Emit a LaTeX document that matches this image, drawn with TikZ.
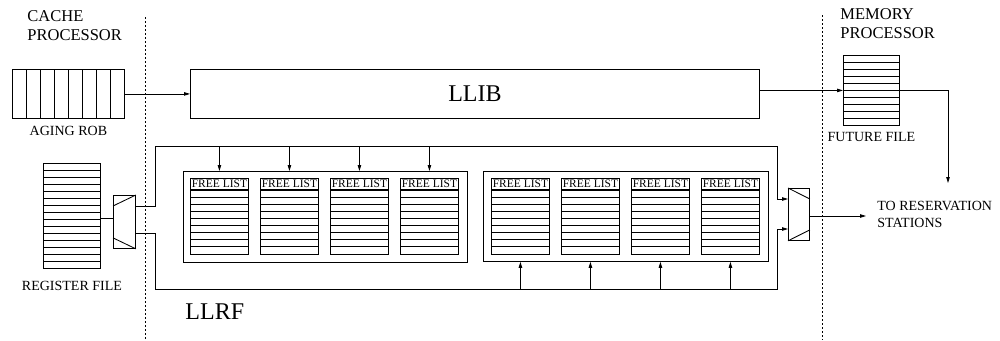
\documentclass[tikz,border=0pt]{standalone}
\usepackage{fontspec}
\setmainfont{Liberation Serif}
\usetikzlibrary{arrows.meta,calc}
\begin{document}
\begin{tikzpicture}[x=1pt,y=-1pt, line width=0.85pt,
  box/.style={draw, inner sep=0pt, anchor=north west},
  arr/.style={-{Triangle[length=6pt,width=3.5pt]}},
  sep/.style={dash pattern=on 2pt off 2pt, line width=0.7pt},
  lbl/.style={font=\fontsize{14}{17}\selectfont, inner sep=0pt},
  bigt/.style={font=\fontsize{16.5}{19}\selectfont, align=left, inner sep=0pt},
  hugt/.style={font=\fontsize{24}{28}\selectfont, inner sep=0pt},
  flt/.style={font=\fontsize{11.5}{12}\selectfont, inner sep=0pt}]

\useasboundingbox (0,0) rectangle (1000,340);

% separators
\coordinate (d1t) at (145,17); \coordinate (d1b) at (145,340);
\coordinate (d2t) at (822,15); \coordinate (d2b) at (822,340);
\draw[sep] (d1t) -- (d1b);
\draw[sep] (d2t) -- (d2b);

% titles
\node[bigt, anchor=north west] (cp) at (27,10) {CACHE\\PROCESSOR};
\node[bigt, anchor=north west] (mp) at (840,8) {MEMORY\\PROCESSOR};

% aging ROB
\node[box, minimum width=112, minimum height=49] (rob) at (12,69) {};
\foreach \k in {1,...,7} \draw (12+\k*14,69) -- ++(0,49);
\node[lbl, anchor=north] (roblbl) at (rob.south |- 0,126) {AGING ROB};

% LLIB
\node[box, minimum width=569, minimum height=49, font=\fontsize{24}{28}\selectfont] (llib) at (190,69) {LLIB};
\draw[arr] (rob.east) -- (llib.west);

% future file
\node[box, minimum width=56, minimum height=70] (ff) at (843,55) {};
\foreach \k in {1,...,9} \draw (843,55+\k*7) -- ++(56,0);
\node[lbl, anchor=north] (fflbl) at (ff.south |- 0,132) {FUTURE FILE};
\coordinate (a1) at ([yshift=3.5pt]llib.east);
\draw[arr] (a1) -- (a1 -| ff.west);
\coordinate (rs) at (948,183);
\draw[arr] (ff.east |- a1) -| (rs);
\node[lbl, anchor=north west, align=left] (rstext) at (877,201) {TO RESERVATION\\STATIONS};

% register file
\node[box, minimum width=57, minimum height=105] (rf) at (43,163) {};
\foreach \k in {1,...,14} \draw (43,163+\k*7) -- ++(57,0);
\node[lbl, anchor=north] (rflbl) at (rf.south |- 0,281) {REGISTER FILE};

% left mux
\node[box, minimum width=22, minimum height=53] (muxL) at (113,195) {};
\draw ($(muxL.north west)+(0,11)$) -- (muxL.north east);
\draw ($(muxL.south west)+(0,-11)$) -- (muxL.south east);
\draw ([yshift=-2.5pt]rf.east) -- ([yshift=-2.5pt]rf.east -| muxL.west);

% right mux
\node[box, minimum width=21, minimum height=52] (muxR) at (788,188) {};
\draw (muxR.north west) -- ($(muxR.north east)+(0,11)$);
\draw (muxR.south west) -- ($(muxR.south east)+(0,-11)$);
\coordinate (rsin) at (866,216);
\draw[arr] (muxR.east |- rsin) -- (rsin);

% LLRF wiring
\coordinate (tl) at (155,146); \coordinate (tr) at (777,146);
\coordinate (bl) at (155,289); \coordinate (br) at (777,289);
\draw[arr] (muxL.east |- 0,206) -| (tl) -- (tr) |- (muxR.west |- 0,199);
\draw[arr] (muxL.east |- 0,233) -| (bl) -- (br) |- (muxR.west |- 0,229);
\node[hugt, anchor=north west] (llrf) at (185,303) {LLRF};

% groups
\node[box, minimum width=284, minimum height=91] (gL) at (183,171) {};
\node[box, minimum width=285, minimum height=90] (gR) at (483,171) {};

\foreach \x [count=\i] in {190,260,330,400,491,561,631,701} {
  \node[box, minimum width=58, minimum height=76] (fl\i) at (\x,178) {};
  \node[flt] at ($(fl\i.north)+(0,6)$) {FREE LIST};
  \draw[line width=1.4pt] (\x,190) -- ++(58,0);
  \foreach \k in {1,...,8} \draw (\x,190+\k*7.11) -- ++(58,0);
}
\foreach \i in {1,...,4} \draw[arr] (fl\i |- tl) -- (fl\i |- gL.north);
\foreach \i in {5,...,8} \draw[arr] (fl\i |- bl) -- (fl\i |- gR.south);

\end{tikzpicture}
\end{document}
